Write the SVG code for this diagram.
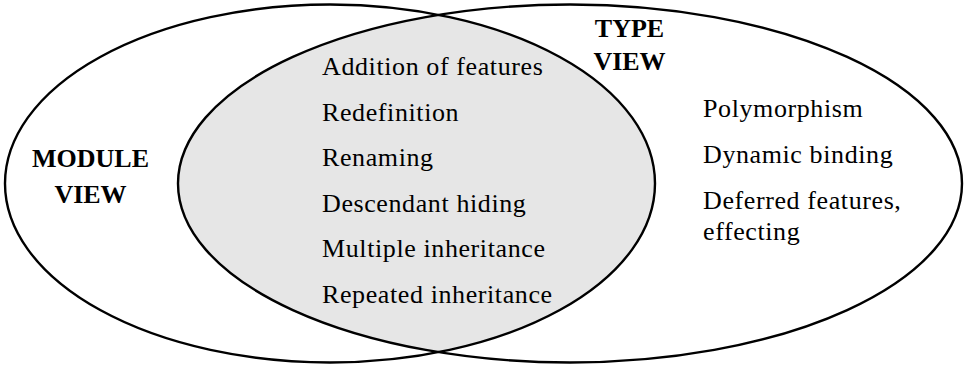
<svg xmlns="http://www.w3.org/2000/svg" width="964" height="365" viewBox="0 0 964 365">
<style>
.t{font-family:"Liberation Serif","Times New Roman",serif;font-size:26px;fill:#000;letter-spacing:0.6px}
.b{font-family:"Liberation Serif","Times New Roman",serif;font-size:26px;font-weight:bold;fill:#000;text-anchor:middle}
.o{fill:none;stroke:#000;stroke-width:2.4}
</style>
<defs>
<clipPath id="clipLeft"><ellipse cx="330" cy="183.5" rx="325" ry="179"/></clipPath>
</defs>
<rect width="964" height="365" fill="#fff"/>
<g id="intersection">
<ellipse cx="570" cy="183.5" rx="392" ry="179" fill="#e6e6e6" clip-path="url(#clipLeft)"/>
</g>
<g id="module-view">
<ellipse class="o" cx="330" cy="183.5" rx="325" ry="179"/>
<text class="b" x="90.5" y="167">MODULE</text>
<text class="b" x="90.5" y="203">VIEW</text>
</g>
<g id="type-view">
<ellipse class="o" cx="570" cy="183.5" rx="392" ry="179"/>
<text class="b" x="629.5" y="37">TYPE</text>
<text class="b" x="629.5" y="70">VIEW</text>
<text class="t" x="703" y="117">Polymorphism</text>
<text class="t" x="703" y="163">Dynamic binding</text>
<text class="t" x="703" y="209">Deferred features,</text>
<text class="t" x="703" y="240">effecting</text>
</g>
<g id="shared">
<text class="t" x="322" y="75">Addition of features</text>
<text class="t" x="322" y="120.5">Redefinition</text>
<text class="t" x="322" y="166">Renaming</text>
<text class="t" x="322" y="211.5">Descendant hiding</text>
<text class="t" x="322" y="257">Multiple inheritance</text>
<text class="t" x="322" y="302.5">Repeated inheritance</text>
</g>
<g id="connectors"/>
</svg>
